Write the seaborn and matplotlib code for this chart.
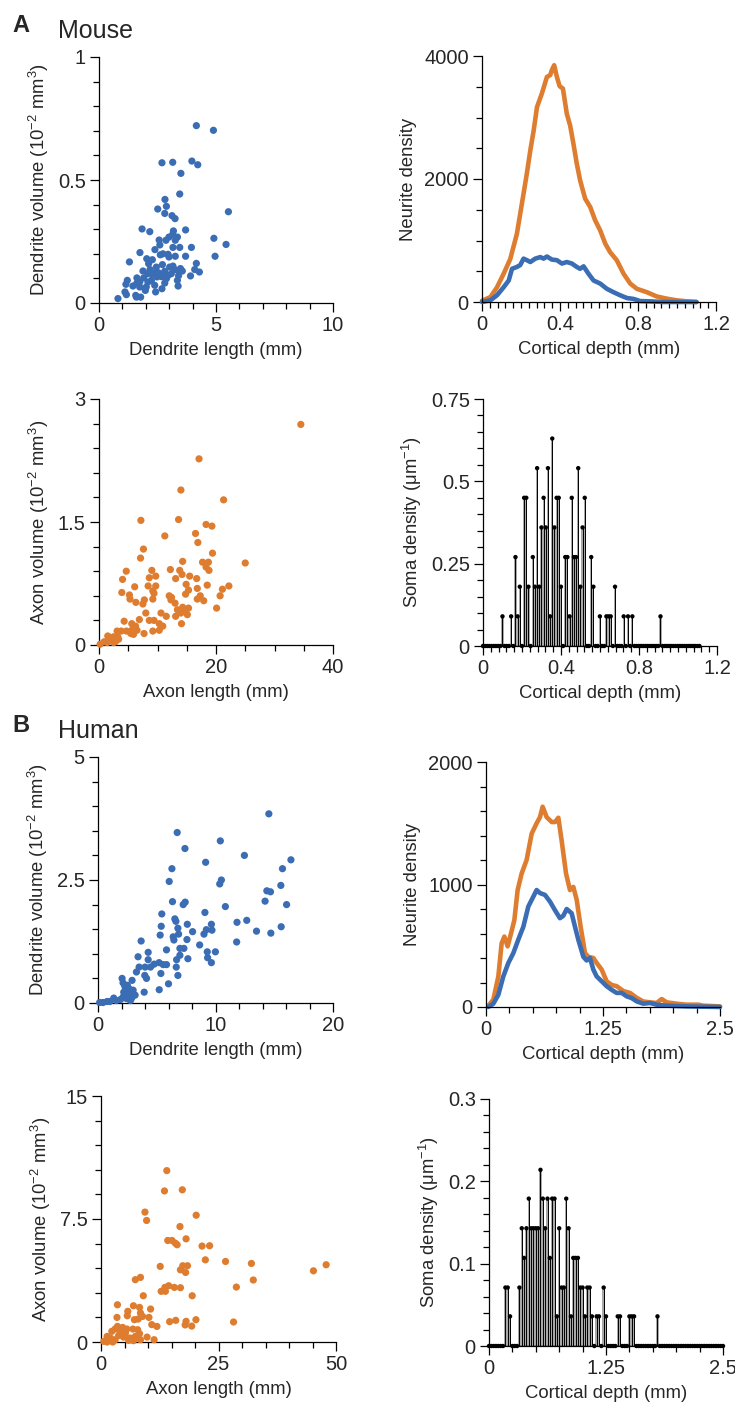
import numpy as np
import pandas as pd
import matplotlib
matplotlib.use("Agg")
import matplotlib.pyplot as plt
from matplotlib.ticker import MultipleLocator, FuncFormatter
import seaborn as sns

BLUE = "#3B6DB4"
ORANGE = "#DE7D2F"

# ---- A: mouse, dendrite length (mm) vs dendrite volume (1e-2 mm^3)
mouse_dend_len = [4.16, 4.89, 2.69, 3.15, 3.97, 4.22, 3.50, 3.45, 2.82, 2.88, 2.51, 2.81, 3.12, 3.25,
                  5.53, 1.84, 2.17, 3.70, 3.18, 3.15, 2.99, 3.35, 2.57, 2.86, 3.26, 4.91, 5.43, 2.60,
                  2.39, 3.16, 3.45, 3.95, 1.75, 2.62, 2.95, 2.99, 3.26, 3.70, 4.96, 1.30, 2.04, 2.28,
                  4.16, 2.12, 2.45, 2.71, 3.02, 3.16, 3.48, 4.09, 4.29, 1.88, 2.18, 2.54, 2.81, 3.40,
                  3.56, 3.91, 3.40, 2.28, 2.68, 2.95, 1.62, 1.91, 2.24, 1.21, 1.15, 1.74, 2.09, 1.45,
                  1.74, 2.02, 2.38, 2.69, 3.35, 3.38, 2.42, 1.98, 1.11, 1.17, 1.57, 1.78, 0.81, 1.60,
                  2.34, 2.48, 2.88, 3.09, 3.23, 2.08, 1.62, 2.81, 2.73]
mouse_dend_vol = [0.721, 0.702, 0.570, 0.572, 0.577, 0.562, 0.527, 0.443, 0.421, 0.393, 0.382, 0.364,
                  0.355, 0.343, 0.371, 0.301, 0.290, 0.297, 0.293, 0.279, 0.268, 0.268, 0.256, 0.255,
                  0.255, 0.263, 0.238, 0.236, 0.217, 0.226, 0.226, 0.226, 0.205, 0.196, 0.198, 0.187,
                  0.190, 0.190, 0.190, 0.167, 0.180, 0.176, 0.161, 0.160, 0.146, 0.156, 0.146, 0.150,
                  0.140, 0.136, 0.126, 0.130, 0.136, 0.123, 0.129, 0.130, 0.130, 0.110, 0.111, 0.117,
                  0.107, 0.112, 0.102, 0.102, 0.092, 0.092, 0.076, 0.085, 0.085, 0.069, 0.065, 0.065,
                  0.072, 0.058, 0.092, 0.069, 0.045, 0.051, 0.045, 0.034, 0.031, 0.024, 0.018, 0.024,
                  0.122, 0.106, 0.099, 0.119, 0.136, 0.119, 0.081, 0.081, 0.200]

# ---- A: mouse, axon length (mm) vs axon volume
mouse_axon_len = [34.5, 17.1, 14.0, 21.3, 7.16, 13.6, 18.3, 19.3, 11.25, 16.5, 16.9, 7.6, 19.4, 7.1,
                  14.3, 17.7, 18.7, 25.0, 18.3, 4.66, 9.03, 12.2, 13.8, 18.8, 4.03, 8.6, 9.7, 13.1,
                  14.2, 15.5, 16.7, 6.1, 8.4, 9.7, 14.9, 16.8, 18.5, 22.2, 21.1, 3.9, 5.2, 9.2, 15.3,
                  5.3, 7.75, 9.4, 12.0, 12.4, 14.8, 17.3, 16.8, 17.9, 20.7, 6.3, 7.5, 9.2, 12.3, 13.0,
                  14.3, 15.3, 20.1, 13.4, 14.7, 8.0, 10.6, 11.5, 13.1, 14.0, 15.1, 4.3, 6.9, 8.6, 9.4,
                  10.3, 14.1, 5.6, 6.25, 10.9, 3.1, 3.8, 4.7, 5.6, 6.5, 10.3, 9.2, 5.45, 5.9, 7.7,
                  1.5, 1.9, 2.5, 3.35, 2.8, 0.9, 0.2, 1.4, 2.3, 2.5, 3.2]
mouse_axon_vol = [2.69, 2.27, 1.89, 1.77, 1.52, 1.53, 1.47, 1.45, 1.33, 1.36, 1.25, 1.17, 1.12, 1.06,
                  1.02, 1.01, 1.01, 1.00, 0.95, 0.90, 0.91, 0.92, 0.91, 0.91, 0.80, 0.82, 0.84, 0.81,
                  0.86, 0.84, 0.81, 0.71, 0.72, 0.72, 0.74, 0.69, 0.73, 0.72, 0.68, 0.64, 0.61, 0.66,
                  0.67, 0.56, 0.55, 0.63, 0.60, 0.58, 0.62, 0.60, 0.56, 0.54, 0.60, 0.52, 0.50, 0.56,
                  0.55, 0.51, 0.46, 0.45, 0.45, 0.43, 0.42, 0.39, 0.39, 0.35, 0.35, 0.39, 0.37, 0.29,
                  0.31, 0.30, 0.30, 0.26, 0.26, 0.26, 0.23, 0.23, 0.17, 0.17, 0.17, 0.18, 0.18, 0.18,
                  0.17, 0.14, 0.13, 0.14, 0.11, 0.08, 0.10, 0.07, 0.04, 0.04, 0.01, 0.03, 0.06, 0.03,
                  0.10]

# ---- A: mouse neurite density vs cortical depth (mm)
mouse_axon_depth = [0.0, 0.043, 0.077, 0.111, 0.145, 0.179, 0.213, 0.23, 0.248, 0.265, 0.282, 0.307,
                    0.333, 0.35, 0.358, 0.370, 0.384, 0.398, 0.415, 0.435, 0.452, 0.469, 0.486, 0.503,
                    0.529, 0.555, 0.58, 0.606, 0.632, 0.657, 0.691, 0.726, 0.76, 0.794, 0.845, 0.896,
                    0.947, 0.999, 1.05, 1.1]
mouse_axon_dens = [20, 80, 240, 460, 700, 1110, 1760, 2090, 2470, 2790, 3170, 3390, 3660, 3690, 3770,
                   3850, 3660, 3510, 3470, 3060, 2870, 2570, 2250, 1980, 1680, 1545, 1330, 1165, 950,
                   810, 680, 460, 300, 215, 160, 90, 55, 27, 10, 0]
mouse_dend_depth = [0.0, 0.043, 0.077, 0.111, 0.137, 0.154, 0.179, 0.196, 0.213, 0.23, 0.248, 0.273,
                    0.299, 0.316, 0.333, 0.358, 0.384, 0.41, 0.435, 0.461, 0.486, 0.503, 0.521, 0.546,
                    0.572, 0.606, 0.64, 0.674, 0.708, 0.743, 0.777, 0.811, 0.862, 0.93, 1.1]
mouse_dend_dens = [0, 27, 110, 240, 350, 540, 570, 600, 705, 680, 650, 705, 730, 705, 740, 690, 680,
                   625, 650, 625, 570, 540, 580, 460, 350, 300, 215, 160, 110, 65, 50, 15, 10, 0, 0]

# ---- A: mouse soma density, bins of ~11 um from 0 to 1.11 mm
mouse_soma = [0, 0, 0, 0, 0, 0, 0, 0, 0, .09,
              0, 0, 0, .09, 0, .27, .09, .18, 0, .45,
              .45, .18, 0, .27, .18, .54, .18, .36, .45, .36,
              .54, .09, .63, .36, .45, .45, .18, 0, .27, .27,
              .09, .45, .27, .27, .54, .18, .36, .45, 0, 0,
              .27, .18, 0, 0, .09, 0, 0, .09, .09, .09,
              0, .18, 0, 0, 0, .09, 0, .09, 0, .09,
              0, 0, 0, 0, 0, 0, 0, 0, 0, 0,
              0, 0, .09, 0, 0, 0, 0, 0, 0, 0,
              0, 0, 0, 0, 0, 0, 0, 0, 0, 0,
              0]

# ---- B: human, dendrite length vs volume
human_dend_len = [14.54, 6.74, 10.41, 7.40, 12.46, 9.16, 16.42, 6.29, 15.70, 6.06, 10.50, 10.36, 15.56,
                  14.37, 14.68, 6.34, 7.25, 7.42, 10.84, 14.22, 16.05, 5.43, 9.10, 6.54, 6.63, 11.83,
                  12.66, 5.38, 6.80, 7.60, 9.65, 15.59, 8.05, 9.02, 9.22, 9.70, 13.49, 14.71, 5.29,
                  6.40, 6.86, 6.46, 7.57, 11.80, 3.67, 8.65, 6.97, 7.31, 5.83, 9.99, 9.30, 4.27, 3.41,
                  9.33, 7.65, 6.97, 6.69, 4.27, 9.65, 3.50, 4.01, 4.47, 4.78, 5.20, 5.55, 5.83, 6.66,
                  3.27, 3.98, 4.13, 5.35, 6.80, 2.90, 6.00, 2.05, 2.13, 2.28, 2.36, 2.56, 2.84, 2.99,
                  3.16, 3.93, 5.21, 2.50, 2.65, 2.42, 2.76, 2.13, 1.91, 1.34, 1.56, 1.00, 0.43, 0.14,
                  0.77, 2.87, 2.19]
human_dend_vol = [3.845, 3.465, 3.295, 3.14, 3.00, 2.86, 2.91, 2.73, 2.73, 2.47, 2.50, 2.42, 2.39,
                  2.28, 2.26, 2.06, 2.00, 2.05, 1.96, 2.07, 2.00, 1.81, 1.84, 1.71, 1.66, 1.64, 1.68,
                  1.56, 1.52, 1.60, 1.60, 1.55, 1.45, 1.40, 1.49, 1.48, 1.46, 1.42, 1.38, 1.345, 1.40,
                  1.28, 1.29, 1.24, 1.26, 1.18, 1.11, 1.11, 1.08, 1.04, 1.04, 1.03, 0.94, 0.92, 0.90,
                  0.97, 0.88, 0.88, 0.82, 0.73, 0.73, 0.73, 0.79, 0.82, 0.78, 0.78, 0.73, 0.63, 0.56,
                  0.50, 0.60, 0.56, 0.46, 0.39, 0.50, 0.41, 0.34, 0.27, 0.20, 0.19, 0.26, 0.16, 0.22,
                  0.27, 0.36, 0.29, 0.09, 0.05, 0.12, 0.07, 0.10, 0.05, 0.03, 0.01, 0.01, 0.03, 0.10,
                  0.22]

# ---- B: human, axon length vs volume
human_axon_len = [14.0, 13.5, 17.3, 9.35, 9.70, 20.25, 16.8, 14.2, 15.1, 15.8, 16.2, 18.1, 21.5, 23.1,
                  22.2, 26.5, 32.0, 45.2, 47.9, 12.6, 17.4, 18.4, 16.9, 18.0, 7.3, 8.4, 32.4, 13.6,
                  14.4, 15.6, 16.9, 12.8, 13.7, 28.8, 9.0, 19.4, 3.5, 6.9, 8.2, 10.55, 5.7, 3.4, 5.6,
                  8.4, 8.85, 7.1, 7.9, 10.2, 15.9, 14.6, 18.1, 20.2, 28.2, 17.9, 19.3, 10.8, 11.9,
                  3.5, 3.0, 4.6, 5.5, 6.8, 7.8, 2.3, 4.1, 5.2, 8.2, 9.8, 11.3, 1.3, 2.0, 3.0, 3.75,
                  4.8, 6.2, 6.9, 7.3, 8.4, 0.6, 1.3, 2.5, 5.9]
human_axon_vol = [10.45, 9.21, 9.28, 7.92, 7.41, 7.73, 7.04, 6.19, 6.19, 6.03, 5.93, 6.29, 5.85, 5.87,
                  5.01, 4.91, 4.79, 4.34, 4.71, 4.61, 4.65, 4.65, 4.40, 4.24, 3.80, 3.94, 3.78, 3.33,
                  3.43, 3.33, 3.31, 3.09, 3.09, 3.35, 2.82, 2.82, 2.27, 2.21, 2.11, 2.01, 1.87, 1.50,
                  1.60, 1.77, 1.56, 1.36, 1.40, 1.50, 1.32, 1.24, 1.26, 1.36, 1.22, 1.04, 0.97, 1.06,
                  0.95, 0.95, 0.79, 0.89, 0.79, 0.79, 0.75, 0.65, 0.59, 0.55, 0.51, 0.30, 0.14, 0.34,
                  0.24, 0.14, 0.39, 0.30, 0.24, 0.08, 0.34, 0.14, 0.04, 0.0, 0.0, 0.10]

# ---- B: human neurite density vs cortical depth
human_axon_depth = [0.025, 0.078, 0.132, 0.167, 0.196, 0.231, 0.267, 0.303, 0.338, 0.381, 0.434, 0.488,
                    0.541, 0.577, 0.605, 0.648, 0.702, 0.737, 0.773, 0.808, 0.855, 0.897, 0.933, 0.969,
                    1.011, 1.058, 1.093, 1.147, 1.182, 1.236, 1.289, 1.343, 1.396, 1.467, 1.538, 1.61,
                    1.68, 1.752, 1.823, 1.877, 1.93, 2.037, 2.14, 2.268, 2.32, 2.5]
human_axon_dens = [10, 60, 250, 520, 575, 495, 600, 710, 955, 1090, 1200, 1415, 1500, 1550, 1635, 1550,
                   1510, 1510, 1545, 1360, 1090, 955, 980, 875, 655, 440, 410, 400, 360, 305, 210, 180,
                   170, 130, 115, 75, 45, 38, 33, 65, 38, 27, 19, 19, 11, 5]
human_dend_depth = [0.025, 0.078, 0.132, 0.185, 0.239, 0.292, 0.345, 0.399, 0.452, 0.505, 0.541, 0.577,
                    0.63, 0.684, 0.737, 0.79, 0.826, 0.862, 0.915, 0.951, 0.986, 1.04, 1.075, 1.111,
                    1.147, 1.182, 1.236, 1.289, 1.343, 1.396, 1.45, 1.503, 1.556, 1.61, 1.68, 1.752,
                    1.823, 1.93, 2.14, 2.5]
human_dend_dens = [0, 27, 100, 250, 360, 440, 550, 655, 820, 900, 955, 930, 915, 860, 790, 725, 745,
                   800, 765, 655, 550, 410, 380, 400, 305, 250, 210, 170, 140, 115, 115, 87, 73, 46,
                   27, 33, 19, 11, 5, 0]

# ---- B: human soma density, 25 um bins from 0 to 2.5 mm
human_soma = [0, 0, 0, 0, 0, 0, 0, .071, .071, .036,
              0, 0, 0, .071, .143, .107, .143, .179, .143, .143,
              .143, .143, .214, .179, .143, .179, .107, .179, .179, .036,
              .143, .071, .071, .179, .143, .036, .107, .107, .107, .071,
              .071, .036, .071, .071, .036, 0, .036, .036, 0, .071,
              .036, 0, 0, 0, 0, .036, .036, 0, 0, 0,
              .036, .036, .036, 0, 0, 0, 0, 0, 0, 0,
              0, 0, .036, 0, 0, 0, 0, 0, 0, 0,
              0, 0, 0, 0, 0, 0, 0, 0, 0, 0,
              0, 0, 0, 0, 0, 0, 0, 0, 0, 0,
              0]

# bin centres (regular histogram bins)
mouse_soma_depth = np.linspace(0.0, 1.11, len(mouse_soma))
human_soma_depth = np.linspace(0.0, 2.5, len(human_soma))

sns.set_theme(style="ticks")
plt.rcParams["font.family"] = ["Liberation Sans", "DejaVu Sans"]
plt.rcParams["mathtext.default"] = "regular"

W, H = 735, 1412
fig = plt.figure(figsize=(W / 100, H / 100), dpi=100)


def px_axes(x0, y0, x1, y1):
    # axes placed by pixel box (left, top, right, bottom)
    return fig.add_axes([x0 / W, 1 - y1 / H, (x1 - x0) / W, (y1 - y0) / H])


def style(ax, xlim, ylim, xmaj, xmin, ymaj, ymin, xlabel, ylabel):
    ax.set_xlim(*xlim)
    ax.set_ylim(*ylim)
    ax.xaxis.set_major_locator(MultipleLocator(xmaj))
    ax.xaxis.set_minor_locator(MultipleLocator(xmin))
    ax.yaxis.set_major_locator(MultipleLocator(ymaj))
    ax.yaxis.set_minor_locator(MultipleLocator(ymin))
    fmt = FuncFormatter(lambda v, p: f"{v:g}")
    ax.xaxis.set_major_formatter(fmt)
    ax.yaxis.set_major_formatter(fmt)
    for s in ["top", "right"]:
        ax.spines[s].set_visible(False)
    for s in ["left", "bottom"]:
        ax.spines[s].set_linewidth(0.9)
        ax.spines[s].set_color("black")
    ax.tick_params(which="major", length=6.5, width=0.9, labelsize=14.5, pad=3, color="black")
    ax.tick_params(which="minor", length=4, width=0.9, color="black")
    ax.set_xlabel(xlabel, fontsize=13.3, labelpad=5)
    ax.set_ylabel(ylabel, fontsize=13.3, labelpad=5)
    ax.grid(False)


def scatter(ax, x, y, color):
    sns.scatterplot(x=x, y=y, ax=ax, color=color, s=27, edgecolor="none", linewidth=0,
                    clip_on=False, legend=False, zorder=3)


def density(ax, xa, ya, xd, yd):
    sns.lineplot(x=xa, y=ya, ax=ax, color=ORANGE, linewidth=3.3, sort=False,
                 clip_on=False, solid_joinstyle="round")
    sns.lineplot(x=xd, y=yd, ax=ax, color=BLUE, linewidth=3.3, sort=False,
                 clip_on=False, solid_joinstyle="round")


def stems(ax, x, y):
    step = x[1] - x[0]
    # grey fill that dense stems produce in the original
    ax.bar(x, y, width=step, color="#a8a8a8", linewidth=0, zorder=1)
    ax.vlines(x, 0, y, color="black", linewidth=0.7, zorder=2)
    ax.plot([x[0], x[-1]], [0, 0], color="black", linewidth=1.0, zorder=2)
    sns.scatterplot(x=x, y=y, ax=ax, color="black", s=10, edgecolor="none", linewidth=0,
                    clip_on=False, legend=False, zorder=3)


vol_label = "Dendrite volume (10$^{-2}$ mm$^3$)"
axon_label = "Axon volume (10$^{-2}$ mm$^3$)"
soma_label = "Soma density ($\\mu$m$^{-1}$)"

# Mouse
ax = px_axes(99, 57, 333, 303)
scatter(ax, mouse_dend_len, mouse_dend_vol, BLUE)
style(ax, (0, 10), (0, 1), 5, 1, 0.5, 0.1, "Dendrite length (mm)", vol_label)

ax = px_axes(482, 56, 716, 302)
density(ax, mouse_axon_depth, mouse_axon_dens, mouse_dend_depth, mouse_dend_dens)
style(ax, (0, 1.2), (0, 4000), 0.4, 0.04, 2000, 500, "Cortical depth (mm)", "Neurite density")

ax = px_axes(99, 399, 333, 645)
scatter(ax, mouse_axon_len, mouse_axon_vol, ORANGE)
style(ax, (0, 40), (0, 3), 20, 5, 1.5, 0.3, "Axon length (mm)", axon_label)

ax = px_axes(483, 399, 717, 646)
stems(ax, mouse_soma_depth, mouse_soma)
style(ax, (0, 1.2), (0, 0.75), 0.4, 0.04, 0.25, 0.05, "Cortical depth (mm)", soma_label)

# Human
ax = px_axes(98, 757, 333, 1003)
scatter(ax, human_dend_len, human_dend_vol, BLUE)
style(ax, (0, 20), (0, 5), 10, 2, 2.5, 0.5, "Dendrite length (mm)", vol_label)

ax = px_axes(486, 762, 720, 1007)
density(ax, human_axon_depth, human_axon_dens, human_dend_depth, human_dend_dens)
style(ax, (0, 2.5), (0, 2000), 1.25, 0.25, 1000, 200, "Cortical depth (mm)", "Neurite density")

ax = px_axes(101, 1096, 336, 1342)
scatter(ax, human_axon_len, human_axon_vol, ORANGE)
style(ax, (0, 50), (0, 15), 25, 5, 7.5, 1.5, "Axon length (mm)", axon_label)

ax = px_axes(489, 1099, 723, 1346)
stems(ax, human_soma_depth, human_soma)
style(ax, (0, 2.5), (0, 0.3), 1.25, 0.25, 0.1, 0.02, "Cortical depth (mm)", soma_label)

# panel letters and titles
fig.text(12 / W, 1 - 32 / H, "A", fontsize=17, fontweight="bold")
fig.text(58 / W, 1 - 38 / H, "Mouse", fontsize=18)
fig.text(12 / W, 1 - 732 / H, "B", fontsize=17, fontweight="bold")
fig.text(58 / W, 1 - 738 / H, "Human", fontsize=18)

fig.savefig("out.png", dpi=100)
